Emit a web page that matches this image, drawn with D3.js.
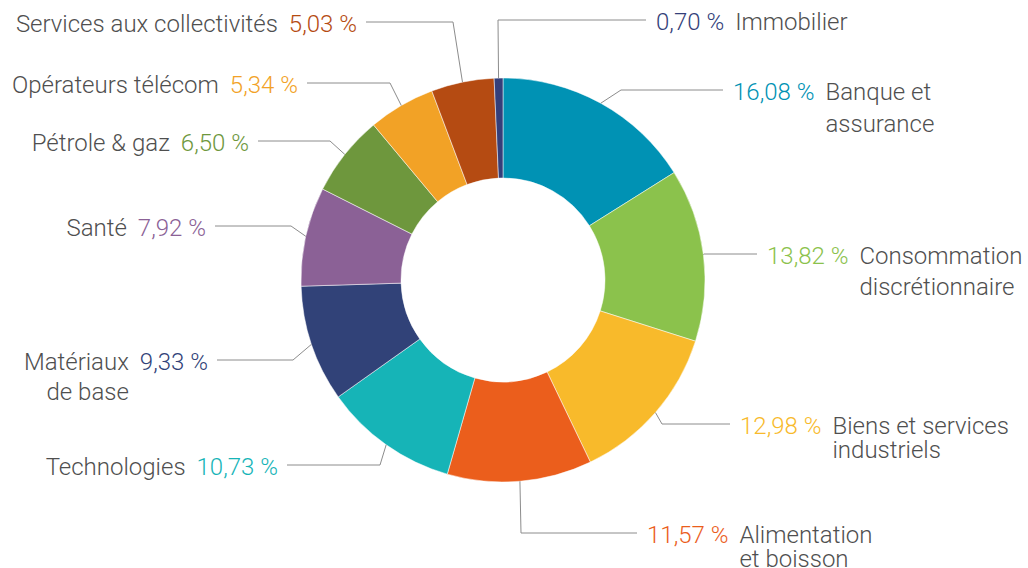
<!DOCTYPE html>
<html>
<head>
<meta charset="utf-8">
<script src="https://cdn.jsdelivr.net/npm/d3@7"></script>
<style>
  html, body { margin: 0; padding: 0; background: #fff; }
  svg { display: block; font-family: Roboto, "Noto Sans", sans-serif; font-weight: 300; }
</style>
</head>
<body>
<div id="container"></div>
<script>
// sectors clockwise from 12 o'clock
const sectors = [
    "Banque et assurance", "Consommation discrétionnaire", "Biens et services industriels",
    "Alimentation et boisson", "Technologies", "Matériaux de base", "Santé",
    "Pétrole & gaz", "Opérateurs télécom", "Services aux collectivités", "Immobilier"
];
const weights = [16.08, 13.82, 12.98, 11.57, 10.73, 9.33, 7.92, 6.50, 5.34, 5.03, 0.70];
const nameLines = [
    ["Banque et", "assurance"], ["Consommation", "discrétionnaire"], ["Biens et services", "industriels"],
    ["Alimentation", "et boisson"], ["Technologies"], ["Matériaux", "de base"], ["Santé"],
    ["Pétrole & gaz"], ["Opérateurs télécom"], ["Services aux collectivités"], ["Immobilier"]
];
const sectorColors = [
    "#0092b4", "#8bc24c", "#f8ba2b", "#eb5e1c", "#16b4b7", "#314278",
    "#8b6196", "#6e973d", "#f2a226", "#b54b12", "#343f7a"
];

// leader line layout: elbow x, line y, end of horizontal line, second line gap
const labelLayout = [
    { side: "right", elbowX: 621, y: 90, lineEnd: 723, gap: 32 },
    { side: "right", elbowX: 704, y: 254, lineEnd: 757, gap: 31 },
    { side: "right", elbowX: 662, y: 424, lineEnd: 730, gap: 24 },
    { side: "right", elbowX: 521, y: 533, lineEnd: 637, gap: 24 },
    { side: "left", elbowX: 380, y: 465, lineEnd: 287, gap: 0 },
    { side: "left", elbowX: 293, y: 360, lineEnd: 217, gap: 30 },
    { side: "left", elbowX: 291, y: 226, lineEnd: 215, gap: 0 },
    { side: "left", elbowX: 330, y: 141, lineEnd: 258, gap: 0 },
    { side: "left", elbowX: 390, y: 83, lineEnd: 307, gap: 0 },
    { side: "left", elbowX: 453, y: 22, lineEnd: 366, gap: 0 },
    { side: "right", elbowX: 498, y: 20, lineEnd: 646, gap: 0 }
];

const w = 1028;
const h = 568;
const cx = 503;
const cy = 280;
const outerR = 202;
const innerR = 102;

const frLocale = d3.formatLocale({ decimal: ",", thousands: " ", grouping: [3], currency: ["", " €"] });
const fmt = frLocale.format(".2f");

const svg = d3.select('#container').append('svg')
    .attr('width', w)
    .attr('height', h);

const pie = d3.pie().sort(null).value(d => d);
const arcs = pie(weights);
const arcGen = d3.arc().innerRadius(innerR).outerRadius(outerR);

const donut = svg.append('g')
    .attr('transform', `translate(${cx}, ${cy})`);

donut.selectAll('path')
    .data(arcs)
    .join('path')
    .attr('d', arcGen)
    .attr('fill', (d, i) => sectorColors[i])
    .attr('stroke', '#ffffff')
    .attr('stroke-width', 0.5);

const labels = svg.append('g');

arcs.forEach((a, i) => {
    const lay = labelLayout[i];
    const mid = (a.startAngle + a.endAngle) / 2;
    const sx = cx + outerR * Math.sin(mid);
    const sy = cy - outerR * Math.cos(mid);

    labels.append('polyline')
        .attr('points', [[sx, sy], [lay.elbowX, lay.y], [lay.lineEnd, lay.y]].join(' '))
        .attr('fill', 'none')
        .attr('stroke', '#8c8c8c')
        .attr('stroke-width', 1);

    const valueText = labels.append('text')
        .attr('y', lay.y)
        .attr('dy', '0.4em')
        .attr('font-size', 24)
        .attr('fill', sectorColors[i])
        .text(`${fmt(weights[i])} %`);

    const vw = valueText.node().getComputedTextLength();
    let nameX;
    if (lay.side === 'right') {
        valueText.attr('x', lay.lineEnd + 10).attr('text-anchor', 'start');
        nameX = lay.lineEnd + 10 + vw + 11;
    } else {
        valueText.attr('x', lay.lineEnd - 9).attr('text-anchor', 'end');
        nameX = lay.lineEnd - 9 - vw - 11;
    }

    const nameText = labels.append('text')
        .attr('x', nameX)
        .attr('y', lay.y)
        .attr('font-size', 24)
        .attr('fill', '#4f4f4f')
        .attr('text-anchor', lay.side === 'right' ? 'start' : 'end');

    nameText.selectAll('tspan')
        .data(nameLines[i])
        .join('tspan')
        .attr('x', nameX)
        .attr('dy', (d, j) => j === 0 ? '0.4em' : lay.gap)
        .text(d => d);
});
</script>
</body>
</html>
